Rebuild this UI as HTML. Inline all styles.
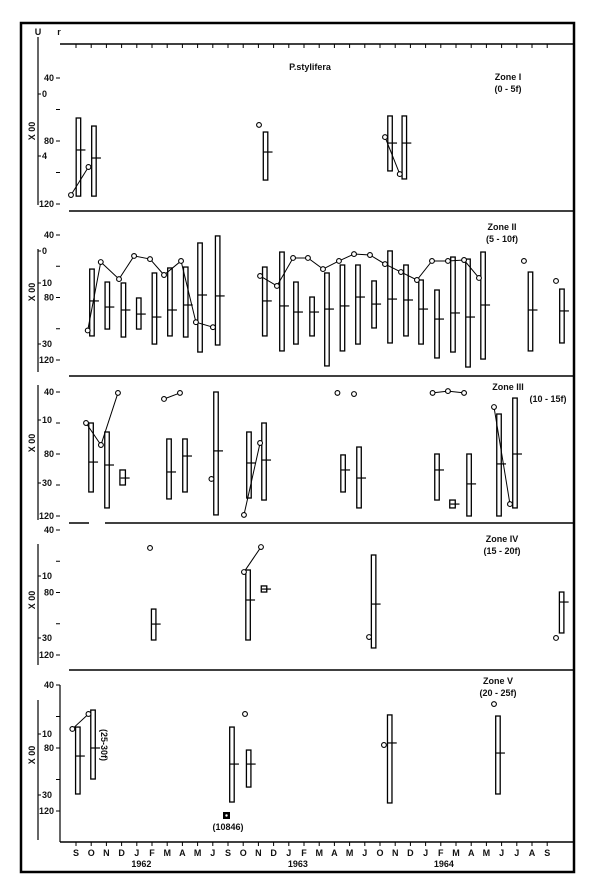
<!DOCTYPE html>
<html><head><meta charset="utf-8"><style>
html,body{margin:0;padding:0;background:#fff;}
svg{display:block;font-family:"Liberation Sans",sans-serif;}
text{fill:#111;font-weight:bold;}
</style></head><body>
<svg id="chart" width="600" height="894" viewBox="0 0 600 894" xmlns="http://www.w3.org/2000/svg">
<rect x="21" y="23" width="553" height="849" fill="none" stroke="#000" stroke-width="2.5"/>
</svg>
<script>
const monthLabels = ["S","O","N","D","J","F","M","A","M","J","S","O","N","D","J","F","M","A","M","J","O","N","D","J","F","M","A","M","J","J","A","S"];
const yearLabels = ["1962","1963","1964"];
const yearMonthPos = [4.3, 14.6, 24.2];

// Zone data: bars = [month, top, bottom, mean] in axis units (40..120), lines = series of [month, value]
const zone1Bars = [[0.16,65.4,115,85.7],[1.18,70.5,115,90.8],[12.47,74.3,104.8,87],[20.66,64.1,99,81.3],[21.6,64.1,104.1,81.3]];
const zone1Lines = [[[-0.33,114.3],[0.82,96.5]],[[12.04,69.8]],[[20.33,77.5],[21.3,101]]];

const zone2Bars = [[1.05,61.8,104.6,82.2],[2.06,70.1,100.2,86.1],[3.12,70.7,105.3,88],[4.13,80.3,100.2,90.6],[5.16,64.3,109.8,92.5],[6.18,61.1,104.6,88],[7.22,60.5,105.3,84.8],[8.16,45.1,114.9,78.4],[9.32,40.6,110.4,79],[12.42,60.5,104.6,82.2],[13.55,50.9,114.2,85.4],[14.47,70.1,109.8,89.3],[15.53,79.7,104.6,89.3],[16.51,64.3,123.8,87.4],[17.53,59.2,114.2,85.4],[18.55,59.2,109.8,79.7],[19.61,69.4,99.5,84.2],[20.66,50.2,109.1,81],[21.71,59.2,104.6,81.6],[22.7,68.8,109.8,87.4],[23.75,75.2,118.7,93.8],[24.8,54.1,114.9,89.9],[25.79,55.4,124.5,92.5],[26.78,50.9,119.4,84.8],[29.9,63.7,114.2,88],[31.97,74.6,109.1,88.6]];
const zone2Lines = [[[0.77,101.1],[1.63,57.3],[2.83,68.2],[3.82,53.4],[4.87,55.4],[5.79,65.6],[6.91,56.6],[7.89,95.8],[9.01,99]],
 [[12.11,66.2],[13.22,72.6],[14.28,54.7],[15.26,54.7],[16.25,61.8],[17.3,56.6],[18.29,52.2],[19.34,52.8],[20.33,58.6],[21.38,63.7],[22.43,68.8],[23.42,56.6],[24.47,56.6],[25.53,56],[26.51,67.5]],
 [[29.47,56.6]],[[31.58,69.4]]];

const zone3Bars = [[0.99,60,104.5,85.2],[2.04,65.8,114.8,87.1],[3.07,90.3,100,95.5,1],[6.12,70.3,109,91.6],[7.17,70.3,104.5,81.3],[9.21,40,119.3,78],[11.38,65.8,108.4,85.8],[12.37,60,109.7,83.9],[17.57,80.6,104.5,90.3],[18.62,75.5,114.8,95.5],[23.75,80,109.7,90.3],[24.77,109.7,114.8,112.3,1],[25.86,80,120,99.3],[27.83,54.2,120,86.4],[28.88,43.9,114.8,80]];
const zone3Lines = [[[0.66,60],[1.64,74.2],[2.76,40.6]],[[5.79,44.5],[6.84,40.6]],[[8.91,96.1]],[[11.05,119.3],[12.11,72.9]],[[17.2,40.6]],[[18.29,41.3]],[[23.46,40.6],[24.47,39.4],[25.53,40.6]],[[27.5,49.7],[28.55,112.3]]];

const zone4Bars = [[5.11,90.6,110.4,100.2],[11.32,65.6,110.4,84.8],[12.37,75.8,79.7,77.8,1],[19.58,56,115.5,87.4],[31.95,79.7,105.9,86.1]];
const zone4Lines = [[[4.87,51.5]],[[11.05,66.9],[12.17,50.9]],[[19.28,108.5]],[[31.58,109.1]]];

const zone5Bars = [[0.12,66.7,109.2,85.1],[1.12,55.9,99.7,80],[10.26,66.7,114.3,90.2],[11.36,81.3,104.8,90.2],[20.64,59,114.9,76.8],[27.76,59.7,109.2,83.2]];
const zone5Lines = [[[-0.24,67.9],[0.82,58.4]],[[11.12,58.4]],[[20.26,78.1]],[[27.5,52.1]]];

const zoneY40 = [78,235,392,530,685];
const zoneY120 = [204,360,516,655,811];
const zoneTitles = ["Zone I","Zone II","Zone III","Zone IV","Zone V"];
const zoneRanges = ["(0 - 5f)","(5 - 10f)","(10 - 15f)","(15 - 20f)","(20 - 25f)"];
const leftScaleLabels = [[["0",94],["4",156]],[["0",251],["10",283],["30",344]],[["10",420],["30",483]],[["10",576],["30",638]],[["10",734],["30",795]]];

const svg = document.getElementById('chart');
const NS = "http://www.w3.org/2000/svg";
function mk(tag, attrs, parent){
  const e = document.createElementNS(NS, tag);
  for (const k in attrs) e.setAttribute(k, attrs[k]);
  (parent||svg).appendChild(e);
  return e;
}
function xScale(m){ return 76 + m*15.2; }
function yScale(z, v){ return zoneY40[z] + (v-40)*(zoneY120[z]-zoneY40[z])/80; }

// top axis (zone I)
let el = mk('line',{x1:60,y1:44,x2:574,y2:44,stroke:'#000','stroke-width':1.6});


for (let i=0;i<monthLabels.length;i++){
  el = mk('line',{x1:xScale(i),y1:44,x2:xScale(i),y2:48,stroke:'#000','stroke-width':1});
  
  
}
el = mk('text',{x:38,y:35,'font-size':9,'text-anchor':'middle'}); el.textContent='U';


el = mk('text',{x:59,y:35,'font-size':9,'text-anchor':'middle'}); el.textContent='r';


el = mk('text',{x:310,y:70,'font-size':9,'text-anchor':'middle'}); el.textContent='P.stylifera';



// zone separators
const sepY = [211,376,523,670];
for (let i=0;i<sepY.length;i++){
  if (i===2){
    el = mk('line',{x1:69,y1:sepY[i],x2:89,y2:sepY[i],stroke:'#000','stroke-width':1.6});
    
    
    el = mk('line',{x1:105,y1:sepY[i],x2:574,y2:sepY[i],stroke:'#000','stroke-width':1.6});
  } else {
    el = mk('line',{x1:69,y1:sepY[i],x2:574,y2:sepY[i],stroke:'#000','stroke-width':1.6});
  }
  
  
}
// bottom axis
el = mk('line',{x1:60,y1:842,x2:574,y2:842,stroke:'#000','stroke-width':1.6});


el = mk('line',{x1:60,y1:685,x2:60,y2:842,stroke:'#000','stroke-width':1.2});


for (let i=0;i<monthLabels.length;i++){
  el = mk('line',{x1:xScale(i),y1:842,x2:xScale(i),y2:846,stroke:'#000','stroke-width':1});
  
  
  el = mk('text',{x:xScale(i),y:856,'font-size':9,'text-anchor':'middle'});
  el.textContent = monthLabels[i];
  
  
}
for (let i=0;i<yearLabels.length;i++){
  el = mk('text',{x:xScale(yearMonthPos[i]),y:867,'font-size':9,'text-anchor':'middle'});
  el.textContent = yearLabels[i];
  
  
}

const leftLineSpan = [[37,205],[249,372],[385,520],[544,665],[700,840]];
const allBars = [zone1Bars,zone2Bars,zone3Bars,zone4Bars,zone5Bars];
const allLines = [zone1Lines,zone2Lines,zone3Lines,zone4Lines,zone5Lines];
const xoPos = [131,292,443,600,755];

for (let z=0; z<5; z++){
  const g = mk('g',{});
  
  
  // left scale line
  el = mk('line',{x1:38,y1:leftLineSpan[z][0],x2:38,y2:leftLineSpan[z][1],stroke:'#000','stroke-width':1.2},g);
  
  
  // right ticks 40..120
  for (let v=40; v<=120; v+=20){
    const y = yScale(z,v);
    el = mk('line',{x1:56,y1:y,x2:60,y2:y,stroke:'#000','stroke-width':1},g);
    
    
    if (v%40===0){
      el = mk('text',{x:54,y:y+3,'font-size':9,'text-anchor':'end'},g);
      el.textContent = String(v);
      
      
    }
  }
  for (const [lab,y] of leftScaleLabels[z]){
    el = mk('line',{x1:38,y1:y,x2:41,y2:y,stroke:'#000','stroke-width':1},g);
    
    
    el = mk('text',{x:42,y:y+3,'font-size':9},g);
    el.textContent = lab;
    
    
  }
  el = mk('text',{x:0,y:0,'font-size':9,'text-anchor':'middle',transform:'translate(35,'+xoPos[z]+') rotate(-90)'},g);
  el.textContent = 'X 00';
  
  
  // titles
  const ty = [80,230,390,542,684][z];
  const tx = [508,502,508,502,498][z];
  el = mk('text',{x:tx,y:ty,'font-size':9,'text-anchor':'middle'},g);
  el.textContent = zoneTitles[z];
  
  
  el = mk('text',{x:(z===2?548:tx),y:ty+12,'font-size':9,'text-anchor':'middle'},g);
  el.textContent = zoneRanges[z];
  
  
  // bars
  for (const b of allBars[z]){
    const x = xScale(b[0]);
    const w = b[4] ? 5.5 : 4.5;
    const y1 = yScale(z,b[1]), y2 = yScale(z,b[2]), ym = yScale(z,b[3]);
    el = mk('rect',{x:x-w/2,y:y1,width:w,height:y2-y1,fill:'#fff',stroke:'#000','stroke-width':1.3},g);
    
    
    el = mk('line',{x1:x-2,y1:ym,x2:x+7,y2:ym,stroke:'#000','stroke-width':1.2},g);
    
    
  }
  // lines & circles
  for (const s of allLines[z]){
    if (s.length>1){
      const pts = s.map(p=>xScale(p[0])+','+yScale(z,p[1])).join(' ');
      el = mk('polyline',{points:pts,fill:'none',stroke:'#000','stroke-width':1},g);
      
      
    }
    for (const p of s){
      el = mk('circle',{cx:xScale(p[0]),cy:yScale(z,p[1]),r:2.4,fill:'#fff',stroke:'#000','stroke-width':1.1},g);
      
      
    }
  }
}
// zone V extras
el = mk('rect',{x:223,y:812,width:7,height:7,fill:'#000'});


el = mk('circle',{cx:226.5,cy:815.5,r:1.2,fill:'#fff'});


el = mk('text',{x:228,y:830,'font-size':9,'text-anchor':'middle'}); el.textContent='(10846)';


el = mk('text',{x:0,y:0,'font-size':9,'text-anchor':'middle',transform:'translate(101,745) rotate(90)'}); el.textContent='(25-30f)';


</script>
</body></html>
